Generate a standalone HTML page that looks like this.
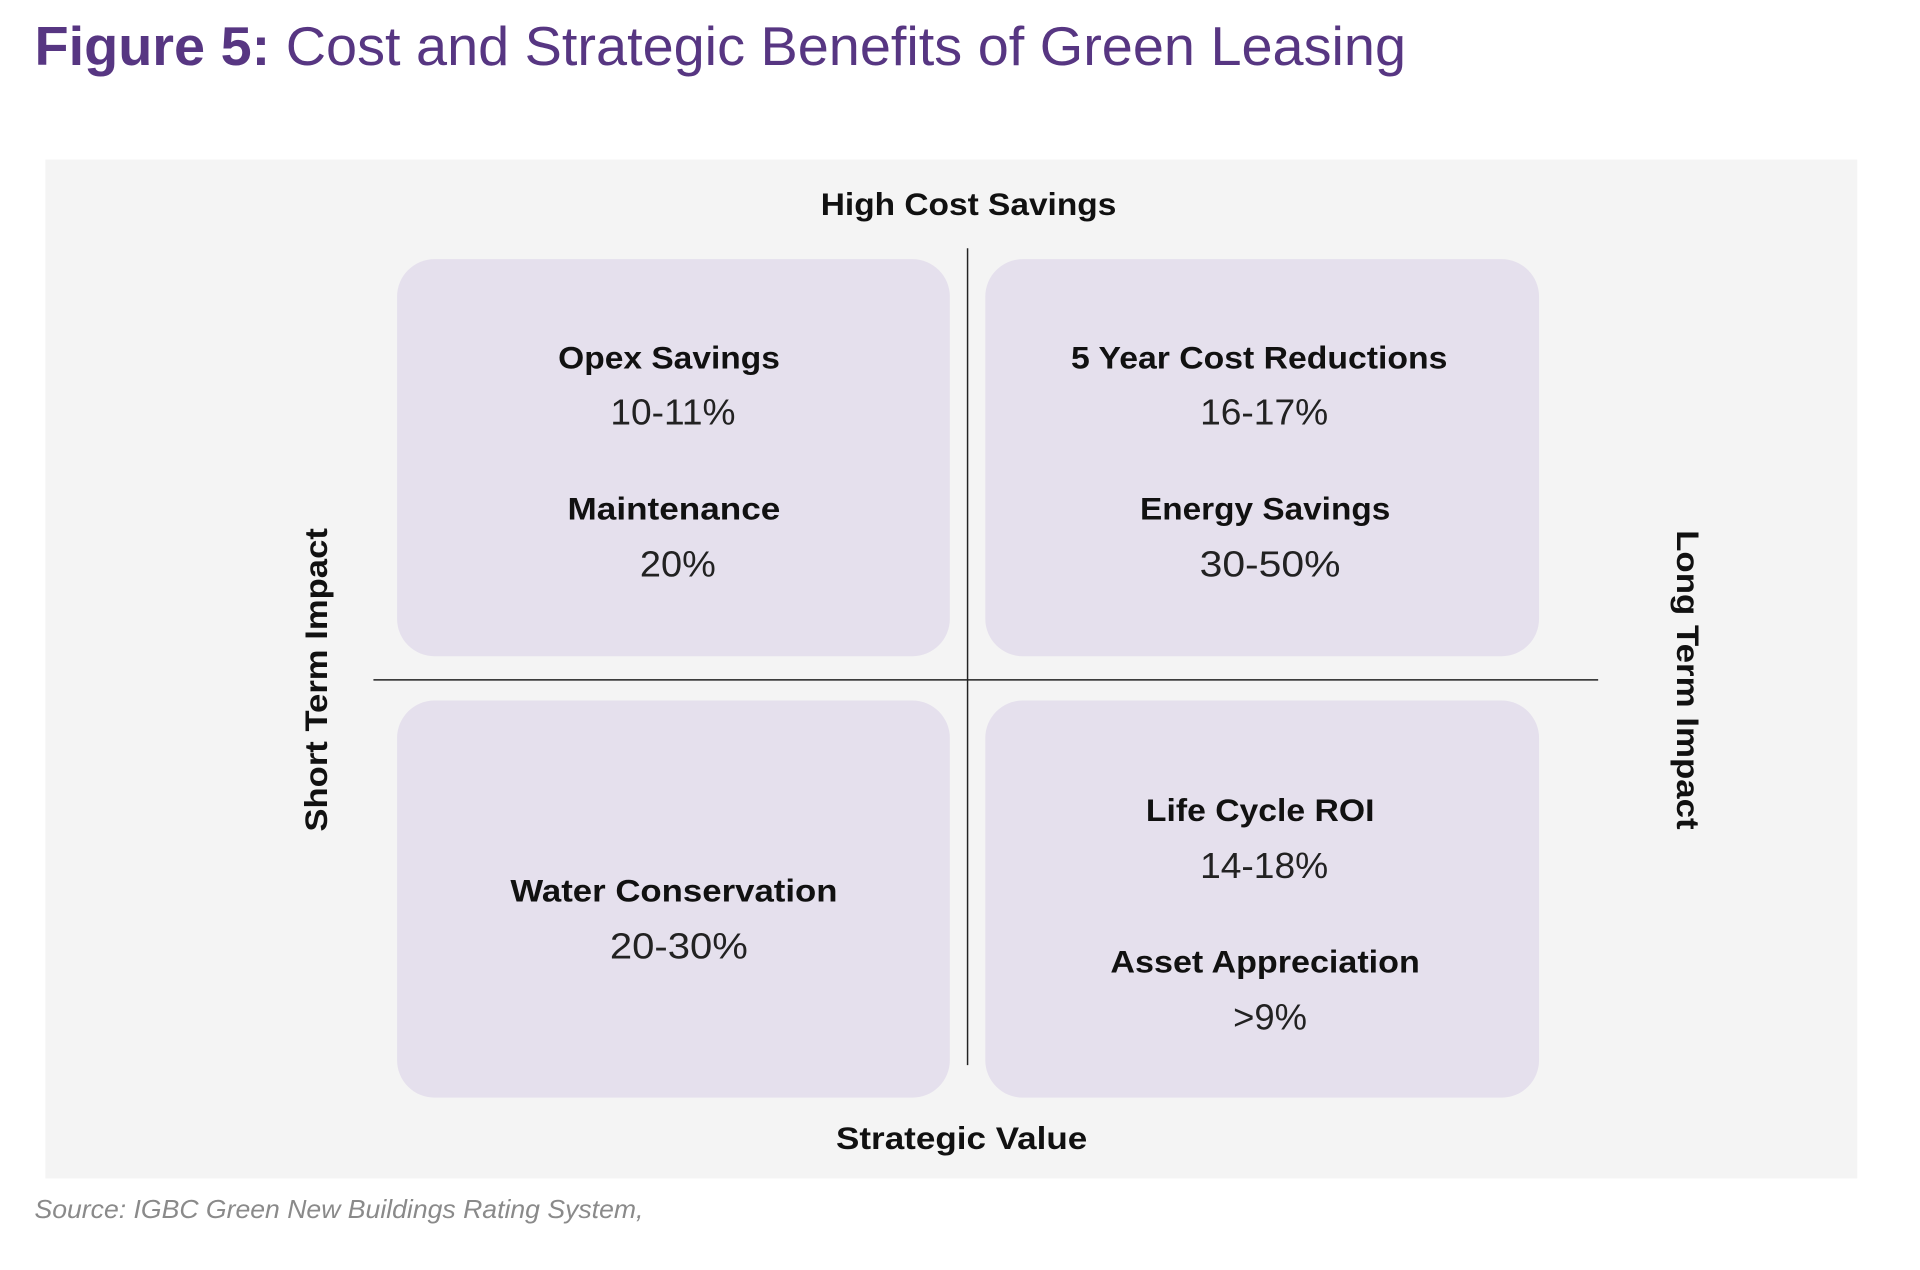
<!DOCTYPE html>
<html>
<head>
<meta charset="utf-8">
<style>
  html,body{margin:0;padding:0;background:#ffffff;}
  svg{display:block;font-family:"Liberation Sans",sans-serif;}
</style>
</head>
<body>
<svg width="1920" height="1270" viewBox="0 0 1920 1270" xmlns="http://www.w3.org/2000/svg">
 <g transform="scale(0.9853)">
  <g>
    <text x="35" y="66" font-size="56" fill="#573682" textLength="1392" lengthAdjust="spacingAndGlyphs"><tspan font-weight="bold">Figure 5:</tspan><tspan font-weight="normal"> Cost and Strategic Benefits of Green Leasing</tspan></text>
  </g>

  <rect x="46" y="162" width="1839" height="1034" fill="#f4f4f4"/>

  <rect x="403" y="263" width="561" height="403" rx="38" fill="#e5e0ed"/>
  <rect x="1000" y="263" width="562" height="403" rx="38" fill="#e5e0ed"/>
  <rect x="403" y="711" width="561" height="403" rx="38" fill="#e5e0ed"/>
  <rect x="1000" y="711" width="562" height="403" rx="38" fill="#e5e0ed"/>

  <line x1="982" y1="252" x2="982" y2="1081" stroke="#222" stroke-width="1.5"/>
  <line x1="379" y1="690" x2="1622" y2="690" stroke="#222" stroke-width="1.5"/>

  <g font-weight="bold" font-size="32" fill="#111" text-anchor="middle" lengthAdjust="spacingAndGlyphs">
    <text x="983" y="218" textLength="300" lengthAdjust="spacingAndGlyphs">High Cost Savings</text>
    <text x="976" y="1166" textLength="255" lengthAdjust="spacingAndGlyphs">Strategic Value</text>
    <text transform="translate(332,690) rotate(-90)" textLength="308" lengthAdjust="spacingAndGlyphs">Short Term Impact</text>
    <text transform="translate(1702,690) rotate(90)" textLength="304" lengthAdjust="spacingAndGlyphs">Long Term Impact</text>
  </g>

  <g text-anchor="middle" fill="#111">
    <text x="679" y="374" font-size="32" font-weight="bold" textLength="225" lengthAdjust="spacingAndGlyphs">Opex Savings</text>
    <text x="683" y="431" font-size="37" fill="#222" textLength="127" lengthAdjust="spacingAndGlyphs">10-11%</text>
    <text x="684" y="527" font-size="32" font-weight="bold" textLength="216" lengthAdjust="spacingAndGlyphs">Maintenance</text>
    <text x="688" y="585" font-size="37" fill="#222" textLength="77" lengthAdjust="spacingAndGlyphs">20%</text>

    <text x="1278" y="374" font-size="32" font-weight="bold" textLength="382" lengthAdjust="spacingAndGlyphs">5 Year Cost Reductions</text>
    <text x="1283" y="431" font-size="37" fill="#222" textLength="130" lengthAdjust="spacingAndGlyphs">16-17%</text>
    <text x="1284" y="527" font-size="32" font-weight="bold" textLength="254" lengthAdjust="spacingAndGlyphs">Energy Savings</text>
    <text x="1289" y="585" font-size="37" fill="#222" textLength="143" lengthAdjust="spacingAndGlyphs">30-50%</text>

    <text x="684" y="915" font-size="32" font-weight="bold" textLength="332" lengthAdjust="spacingAndGlyphs">Water Conservation</text>
    <text x="689" y="973" font-size="37" fill="#222" textLength="140" lengthAdjust="spacingAndGlyphs">20-30%</text>

    <text x="1279" y="833" font-size="32" font-weight="bold" textLength="232" lengthAdjust="spacingAndGlyphs">Life Cycle ROI</text>
    <text x="1283" y="891" font-size="37" fill="#222" textLength="130" lengthAdjust="spacingAndGlyphs">14-18%</text>
    <text x="1284" y="987" font-size="32" font-weight="bold" textLength="314" lengthAdjust="spacingAndGlyphs">Asset Appreciation</text>
    <text x="1289" y="1045" font-size="37" fill="#222" textLength="75" lengthAdjust="spacingAndGlyphs">&gt;9%</text>
  </g>

  <text x="35" y="1236" font-size="26" font-style="italic" fill="#8a8a8a" textLength="618" lengthAdjust="spacingAndGlyphs">Source: IGBC Green New Buildings Rating System,</text>
 </g>
</svg>
</body>
</html>
